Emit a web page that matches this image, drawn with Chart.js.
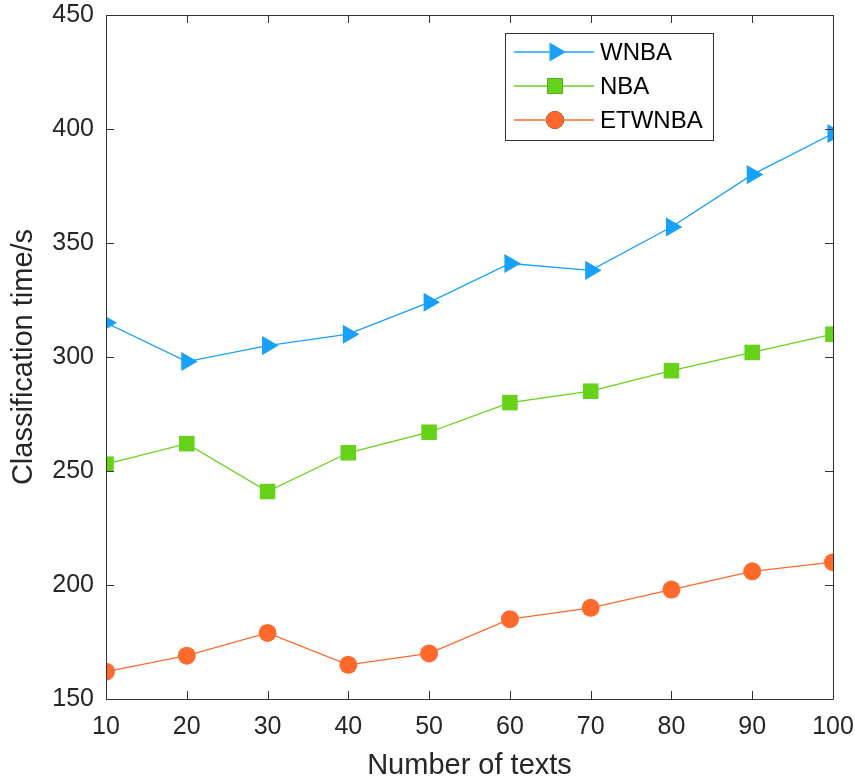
<!DOCTYPE html>
<html>
<head>
<meta charset="utf-8">
<script src="https://cdn.jsdelivr.net/npm/chart.js@4/dist/chart.umd.min.js"></script>
<style>
html,body{margin:0;padding:0;background:#fff;}
#wrap{width:855px;height:783px;position:relative;}
</style>
</head>
<body>
<div id="wrap"><canvas id="c" width="855" height="783"></canvas></div>
<script>
const categories = [10, 20, 30, 40, 50, 60, 70, 80, 90, 100];
const wnba   = [315, 298, 305, 310, 324, 341, 338, 357, 380, 398];
const nba    = [253, 262, 241, 258, 267, 280, 285, 294, 302, 310];
const etwnba = [162, 169, 179, 165, 170, 185, 190, 198, 206, 210];
const yTicks = [150, 200, 250, 300, 350, 400, 450];
const xTicks = [10, 20, 30, 40, 50, 60, 70, 80, 90, 100];

const toXY = arr => arr.map((v, i) => ({x: categories[i], y: v}));
const FONT = '"Liberation Sans", Arial, sans-serif';
const AXIS = '#262626';

const boxTicks = {
  id: 'boxTicks',
  afterDatasetsDraw(chart) {
    const {ctx, chartArea: a, scales: {x, y}} = chart;
    ctx.save();
    ctx.strokeStyle = '#333';
    ctx.lineWidth = 1;
    ctx.beginPath();
    ctx.rect(a.left + 0.5, a.top + 0.5, a.right - a.left, a.bottom - a.top);
    ctx.stroke();
    const L = 8;
    ctx.beginPath();
    xTicks.forEach(t => {
      const px = Math.round(x.getPixelForValue(t)) + 0.5;
      ctx.moveTo(px, a.bottom); ctx.lineTo(px, a.bottom - L);
      ctx.moveTo(px, a.top); ctx.lineTo(px, a.top + L);
    });
    yTicks.forEach(t => {
      const py = Math.round(y.getPixelForValue(t)) + 0.5;
      ctx.moveTo(a.left, py); ctx.lineTo(a.left + L, py);
      ctx.moveTo(a.right, py); ctx.lineTo(a.right - L, py);
    });
    ctx.stroke();
    ctx.restore();
  }
};

const legendBox = {
  id: 'legendBox',
  afterDraw(chart) {
    const ctx = chart.ctx;
    const left = 505.5, top = 33.5, w = 208, h = 107;
    ctx.save();
    ctx.fillStyle = '#fff';
    ctx.fillRect(left, top, w, h);
    ctx.strokeStyle = '#333';
    ctx.lineWidth = 1;
    ctx.strokeRect(left, top, w, h);
    const rows = [52, 86, 120];
    chart.data.datasets.forEach((ds, i) => {
      const yy = rows[i];
      ctx.strokeStyle = ds.borderColor;
      ctx.lineWidth = ds.borderWidth;
      ctx.beginPath(); ctx.moveTo(514, yy); ctx.lineTo(594, yy); ctx.stroke();
      Chart.helpers.drawPoint(ctx, {
        pointStyle: ds.pointStyle, rotation: ds.pointRotation || 0,
        radius: ds.pointRadius, borderWidth: 0
      }, 555, yy);
      ctx.fillStyle = ds.pointBackgroundColor;
      ctx.fill();
      ctx.fillStyle = '#000';
      ctx.font = '24px ' + FONT;
      ctx.textBaseline = 'middle';
      ctx.textAlign = 'left';
      ctx.fillText(ds.label, 600, yy + 1);
    });
    ctx.restore();
  }
};

new Chart(document.getElementById('c'), {
  type: 'line',
  data: {
    datasets: [
      {label: 'WNBA', data: toXY(wnba), borderColor: '#18a0fb', backgroundColor: '#18a0fb',
       pointBackgroundColor: '#18a0fb', pointBorderWidth: 0, borderWidth: 1.3,
       pointStyle: 'triangle', pointRotation: 90, pointRadius: 11},
      {label: 'NBA', data: toXY(nba), borderColor: '#66d21a', backgroundColor: '#66d21a',
       pointBackgroundColor: '#66d21a', pointBorderWidth: 0, borderWidth: 1.3,
       pointStyle: 'rect', pointRadius: 11},
      {label: 'ETWNBA', data: toXY(etwnba), borderColor: '#ff6a2c', backgroundColor: '#ff6a2c',
       pointBackgroundColor: '#ff6a2c', pointBorderWidth: 0, borderWidth: 1.3,
       pointStyle: 'circle', pointRadius: 9}
    ]
  },
  options: {
    responsive: false,
    animation: false,
    layout: {padding: {left: 0, top: 15, right: 22, bottom: 0}},
    plugins: {legend: {display: false}, tooltip: {enabled: false}},
    elements: {line: {tension: 0}},
    scales: {
      x: {
        type: 'linear', min: 10, max: 100,
        afterFit: s => { s.height = 84; s.paddingLeft = 0; s.paddingRight = 0; },
        afterBuildTicks: s => { s.ticks = xTicks.map(v => ({value: v})); },
        grid: {display: false, drawTicks: false},
        border: {display: false},
        ticks: {color: AXIS, font: {family: FONT, size: 25}, padding: 13, maxRotation: 0, autoSkip: false},
        title: {display: true, text: 'Number of texts', color: AXIS, font: {family: FONT, size: 29}, padding: {top: 0, bottom: 0}}
      },
      y: {
        type: 'linear', min: 150, max: 450,
        afterFit: s => { s.width = 106; s.paddingTop = 0; s.paddingBottom = 0; },
        afterBuildTicks: s => { s.ticks = yTicks.map(v => ({value: v})); },
        grid: {display: false, drawTicks: false},
        border: {display: false},
        ticks: {color: AXIS, font: {family: FONT, size: 25}, padding: 12},
        title: {display: true, text: 'Classification time/s', color: AXIS, font: {family: FONT, size: 29}, padding: {top: 7, bottom: 0}}
      }
    }
  },
  plugins: [boxTicks, legendBox]
});
</script>
</body>
</html>
